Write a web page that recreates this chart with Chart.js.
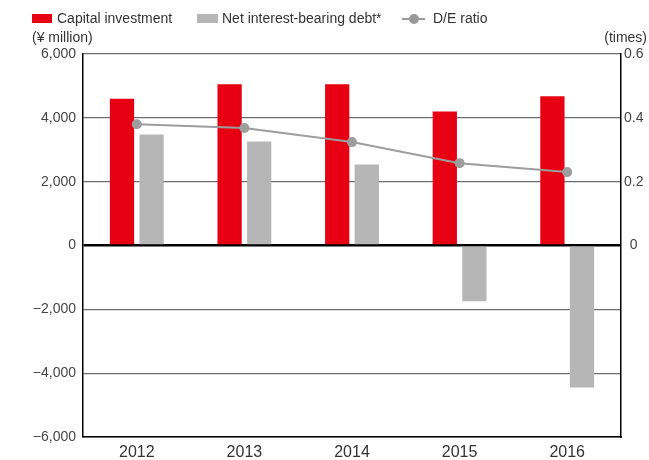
<!DOCTYPE html>
<html>
<head>
<meta charset="utf-8">
<script src="https://cdn.jsdelivr.net/npm/chart.js@4"></script>
<style>
  body { margin: 0; background: #fff; font-family: "Liberation Sans", Arial, sans-serif; color: #333; }
  #wrap { position: relative; width: 649px; height: 460px; }
  canvas { position: absolute; left: 0; top: 0; }
  .lbl { position: absolute; font-size: 14px; line-height: 16px; white-space: nowrap; color: #333; }
  .box { position: absolute; height: 9px; }
</style>
</head>
<body>
<div id="wrap">
  <canvas id="chart" width="649" height="460"></canvas>
  <div class="box" style="left:32px;top:14px;width:20px;background:#e60012"></div>
  <div class="lbl" style="left:57px;top:10px">Capital investment</div>
  <div class="box" style="left:197px;top:14px;width:21px;background:#b5b6b5"></div>
  <div class="lbl" style="left:222px;top:10px">Net interest-bearing debt*</div>
  <div style="position:absolute;left:402px;top:18px;width:23px;height:2px;background:#999"></div>
  <div style="position:absolute;left:409px;top:14px;width:10px;height:10px;border-radius:50%;background:#999"></div>
  <div class="lbl" style="left:433px;top:10px">D/E ratio</div>
  <div class="lbl" style="left:32px;top:29px">(¥ million)</div>
  <div class="lbl" style="right:2px;top:29px">(times)</div>
</div>
<script>
// chart data
const years = ['2012', '2013', '2014', '2015', '2016'];
const capitalInvestment = [4600, 5050, 5050, 4200, 4680];
const netDebt = [3480, 3260, 2540, -1750, -4450];
const deRatio = [0.38, 0.368, 0.324, 0.258, 0.23];

function fmtYen(v) {
  const s = Math.abs(v).toLocaleString('en-US');
  return v < 0 ? '\u2212' + s : s;
}

function initializeChart() {
  const ctx = document.getElementById('chart').getContext('2d');
  new Chart(ctx, {
    data: {
      labels: years,
      datasets: [
        {
          type: 'line',
          label: 'D/E ratio',
          data: deRatio,
          yAxisID: 'y1',
          borderColor: '#9d9d9d',
          borderWidth: 2,
          pointRadius: 5,
          pointBackgroundColor: '#9d9d9d',
          pointBorderWidth: 0,
          order: 0
        },
        {
          type: 'bar',
          label: 'Capital investment',
          data: capitalInvestment,
          yAxisID: 'y',
          backgroundColor: '#e60012',
          categoryPercentage: 0.55,
          barPercentage: 0.82,
          order: 1
        },
        {
          type: 'bar',
          label: 'Net interest-bearing debt*',
          data: netDebt,
          yAxisID: 'y',
          backgroundColor: '#b5b6b5',
          categoryPercentage: 0.55,
          barPercentage: 0.82,
          order: 1
        }
      ]
    },
    options: {
      responsive: false,
      animation: false,
      layout: { padding: { top: 54, left: 0, right: 0, bottom: 0 } },
      plugins: {
        legend: { display: false },
        tooltip: { enabled: false }
      },
      scales: {
        x: {
          grid: { display: false, drawTicks: false },
          border: { color: '#000', width: 1.5 },
          ticks: { color: '#333', font: { size: 16, family: 'Liberation Sans' }, padding: 6 },
          afterFit: s => { s.height = 23; }
        },
        y: {
          position: 'left',
          min: -6000,
          max: 6000,
          border: { color: '#000', width: 1.5 },
          grid: {
            drawTicks: false,
            color: c => c.tick && c.tick.value === 0 ? '#000' : '#6e6e6e',
            lineWidth: c => c.tick && c.tick.value === 0 ? 2.5 : 1.2
          },
          ticks: {
            stepSize: 2000,
            padding: 7,
            color: '#444',
            font: { size: 14, family: 'Liberation Sans' },
            callback: v => fmtYen(v)
          },
          afterFit: s => { s.width = 83; }
        },
        y1: {
          position: 'right',
          min: -0.6,
          max: 0.6,
          border: { color: '#000', width: 1.5 },
          grid: { display: false, drawTicks: false },
          ticks: {
            stepSize: 0.2,
            padding: 3,
            crossAlign: 'center',
            color: '#444',
            font: { size: 14, family: 'Liberation Sans' },
            callback: v => {
              if (v < -1e-9) return '';
              if (Math.abs(v) < 1e-9) return '0';
              return v.toFixed(1);
            }
          },
          afterFit: s => { s.width = 28; }
        }
      }
    }
  });
}

document.addEventListener('DOMContentLoaded', initializeChart);
</script>
</body>
</html>
